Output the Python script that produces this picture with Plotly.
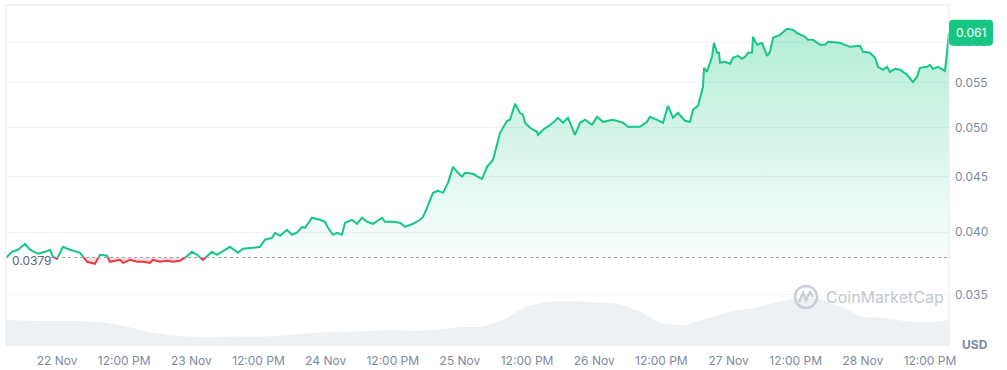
import numpy as np
import pandas as pd
import plotly.graph_objects as go

# ---------------- data ----------------
times = [
    "2024-11-21 14:53", "2024-11-21 15:57", "2024-11-21 17:02", "2024-11-21 18:17", "2024-11-21 19:10",
    "2024-11-21 20:36", "2024-11-21 21:51", "2024-11-21 22:45", "2024-11-21 23:17", "2024-11-22 00:00",
    "2024-11-22 01:04", "2024-11-22 02:19", "2024-11-22 04:07", "2024-11-22 05:22", "2024-11-22 06:47",
    "2024-11-22 07:41", "2024-11-22 08:56", "2024-11-22 09:28", "2024-11-22 11:15", "2024-11-22 11:48",
    "2024-11-22 13:03", "2024-11-22 14:18", "2024-11-22 15:22", "2024-11-22 16:37", "2024-11-22 17:09",
    "2024-11-22 18:24", "2024-11-22 19:39", "2024-11-22 20:44", "2024-11-22 21:59", "2024-11-22 22:52",
    "2024-11-23 00:07", "2024-11-23 01:01", "2024-11-23 02:05", "2024-11-23 03:42", "2024-11-23 04:36",
    "2024-11-23 06:55", "2024-11-23 08:21", "2024-11-23 09:14", "2024-11-23 11:02", "2024-11-23 12:17",
    "2024-11-23 13:10", "2024-11-23 14:25", "2024-11-23 14:57", "2024-11-23 15:51", "2024-11-23 17:06",
    "2024-11-23 18:00", "2024-11-23 18:53", "2024-11-23 19:47", "2024-11-23 20:19", "2024-11-23 21:34",
    "2024-11-23 23:00", "2024-11-23 23:53", "2024-11-24 00:26", "2024-11-24 01:19", "2024-11-24 02:02",
    "2024-11-24 02:56", "2024-11-24 03:28", "2024-11-24 04:43", "2024-11-24 05:37", "2024-11-24 06:30",
    "2024-11-24 07:24", "2024-11-24 08:28", "2024-11-24 10:05", "2024-11-24 10:37", "2024-11-24 12:03",
    "2024-11-24 13:18", "2024-11-24 14:11", "2024-11-24 15:37", "2024-11-24 16:52", "2024-11-24 17:24",
    "2024-11-24 18:07", "2024-11-24 19:11", "2024-11-24 20:05", "2024-11-24 20:59", "2024-11-24 21:52",
    "2024-11-24 22:46", "2024-11-24 23:40", "2024-11-25 00:22", "2024-11-25 00:55", "2024-11-25 02:20",
    "2024-11-25 03:35", "2024-11-25 03:57", "2024-11-25 04:51", "2024-11-25 05:55", "2024-11-25 07:10",
    "2024-11-25 08:25", "2024-11-25 08:57", "2024-11-25 09:51", "2024-11-25 10:44", "2024-11-25 11:16",
    "2024-11-25 11:38", "2024-11-25 12:32", "2024-11-25 13:47", "2024-11-25 13:57", "2024-11-25 14:51",
    "2024-11-25 16:38", "2024-11-25 17:32", "2024-11-25 18:25", "2024-11-25 19:19", "2024-11-25 20:34",
    "2024-11-25 21:28", "2024-11-25 22:21", "2024-11-25 23:36", "2024-11-26 00:30", "2024-11-26 01:34",
    "2024-11-26 03:21", "2024-11-26 05:09", "2024-11-26 06:02", "2024-11-26 06:56", "2024-11-26 08:11",
    "2024-11-26 09:26", "2024-11-26 09:58", "2024-11-26 11:13", "2024-11-26 12:18", "2024-11-26 13:11",
    "2024-11-26 14:05", "2024-11-26 14:58", "2024-11-26 16:13", "2024-11-26 17:07", "2024-11-26 17:39",
    "2024-11-26 18:33", "2024-11-26 19:26", "2024-11-26 19:37", "2024-11-26 20:09", "2024-11-26 21:03",
    "2024-11-26 21:24", "2024-11-26 21:57", "2024-11-26 22:18", "2024-11-26 22:29", "2024-11-26 23:22",
    "2024-11-27 00:16", "2024-11-27 00:48", "2024-11-27 01:42", "2024-11-27 02:25", "2024-11-27 02:57",
    "2024-11-27 03:29", "2024-11-27 04:12", "2024-11-27 04:22", "2024-11-27 05:05", "2024-11-27 05:59",
    "2024-11-27 06:53", "2024-11-27 07:25", "2024-11-27 07:57", "2024-11-27 09:12", "2024-11-27 10:27",
    "2024-11-27 11:31", "2024-11-27 12:14", "2024-11-27 13:40", "2024-11-27 14:12", "2024-11-27 15:06",
    "2024-11-27 16:21", "2024-11-27 17:14", "2024-11-27 17:47", "2024-11-27 19:55", "2024-11-27 20:49",
    "2024-11-27 21:42", "2024-11-27 23:30", "2024-11-28 00:02", "2024-11-28 01:17", "2024-11-28 02:11",
    "2024-11-28 02:43", "2024-11-28 03:36", "2024-11-28 04:19", "2024-11-28 04:51", "2024-11-28 05:45",
    "2024-11-28 06:39", "2024-11-28 07:54", "2024-11-28 08:58", "2024-11-28 09:41", "2024-11-28 10:13",
    "2024-11-28 11:28", "2024-11-28 12:00", "2024-11-28 12:32", "2024-11-28 13:26", "2024-11-28 14:41",
    "2024-11-28 15:03", "2024-11-28 15:24",
]
prices = [
    0.03787, 0.03836, 0.03853, 0.03902, 0.03853,
    0.03820, 0.03836, 0.03853, 0.03795, 0.03779,
    0.03877, 0.03853, 0.03828, 0.03755, 0.03739,
    0.03812, 0.03804, 0.03755, 0.03771, 0.03747,
    0.03771, 0.03755, 0.03755, 0.03747, 0.03771,
    0.03755, 0.03763, 0.03755, 0.03763, 0.03787,
    0.03836, 0.03812, 0.03771, 0.03836, 0.03812,
    0.03877, 0.03828, 0.03861, 0.03869, 0.03877,
    0.03936, 0.03952, 0.03995, 0.03969, 0.04020,
    0.03978, 0.03995, 0.04046, 0.04038, 0.04125,
    0.04107, 0.04090, 0.04038, 0.03978, 0.03995,
    0.03978, 0.04081, 0.04107, 0.04072, 0.04125,
    0.04090, 0.04072, 0.04125, 0.04090, 0.04090,
    0.04081, 0.04046, 0.04072, 0.04107, 0.04133,
    0.04213, 0.04350, 0.04369, 0.04350, 0.04444,
    0.04598, 0.04540, 0.04501, 0.04540, 0.04530,
    0.04492, 0.04482, 0.04598, 0.04668, 0.04944,
    0.05072, 0.05083, 0.05259, 0.05160, 0.05138,
    0.05051, 0.04997, 0.04955, 0.04923, 0.04976,
    0.05051, 0.05105, 0.05051, 0.05105, 0.04923,
    0.05051, 0.05083, 0.05029, 0.05116, 0.05061,
    0.05083, 0.05051, 0.05008, 0.05008, 0.05008,
    0.05061, 0.05116, 0.05083, 0.05051, 0.05237,
    0.05105, 0.05160, 0.05072, 0.05061, 0.05193,
    0.05237, 0.05454, 0.05679, 0.05631, 0.05814,
    0.05990, 0.05864, 0.05864, 0.05740, 0.05752,
    0.05728, 0.05801, 0.05826, 0.05789, 0.05814,
    0.05864, 0.05864, 0.06067, 0.05964, 0.05990,
    0.05826, 0.05876, 0.06054, 0.06093, 0.06171,
    0.06158, 0.06119, 0.06067, 0.06028, 0.06028,
    0.05964, 0.05964, 0.06003, 0.05990, 0.05964,
    0.05939, 0.05952, 0.05876, 0.05864, 0.05801,
    0.05691, 0.05655, 0.05691, 0.05631, 0.05667,
    0.05655, 0.05595, 0.05512, 0.05571, 0.05679,
    0.05691, 0.05716, 0.05667, 0.05691, 0.05643,
    0.05876, 0.06120,
]

vol_times = [
    "2024-11-21 14:53", "2024-11-21 16:00", "2024-11-21 20:00",
    "2024-11-22 00:00", "2024-11-22 04:00", "2024-11-22 08:00", "2024-11-22 12:00", "2024-11-22 16:00", "2024-11-22 20:00",
    "2024-11-23 00:00", "2024-11-23 04:00", "2024-11-23 08:00", "2024-11-23 12:00", "2024-11-23 16:00", "2024-11-23 20:00",
    "2024-11-24 00:00", "2024-11-24 04:00", "2024-11-24 08:00", "2024-11-24 12:00", "2024-11-24 16:00", "2024-11-24 20:00",
    "2024-11-25 00:00", "2024-11-25 04:00", "2024-11-25 08:00", "2024-11-25 12:00", "2024-11-25 16:00", "2024-11-25 20:00",
    "2024-11-26 00:00", "2024-11-26 04:00", "2024-11-26 08:00", "2024-11-26 12:00", "2024-11-26 16:00", "2024-11-26 20:00",
    "2024-11-27 00:00", "2024-11-27 04:00", "2024-11-27 08:00", "2024-11-27 12:00", "2024-11-27 16:00", "2024-11-27 20:00",
    "2024-11-28 00:00", "2024-11-28 04:00", "2024-11-28 08:00", "2024-11-28 12:00", "2024-11-28 15:24",
]
volumes = [
    26, 26, 25,
    25, 25, 24, 20, 14.5, 10.8,
    9.3, 9, 9.5, 9.2, 10.3, 12.5,
    14, 14.2, 15, 16, 15, 16.5,
    19, 19, 27, 40, 44.5, 45,
    43.2, 42.7, 35, 22.5, 20.5, 27.5,
    34, 37.5, 43, 47.7, 47.7, 39.3,
    29, 28, 24.5, 23.8, 26,
]

baseline_price = 0.0379
baseline_label = "0.0379"
last_label = "0.061"
x_range = ["2024-11-21 14:53", "2024-11-28 15:24"]
x_tickvals = [
    "2024-11-22 00:00", "2024-11-22 12:00", "2024-11-23 00:00", "2024-11-23 12:00",
    "2024-11-24 00:00", "2024-11-24 12:00", "2024-11-25 00:00", "2024-11-25 12:00",
    "2024-11-26 00:00", "2024-11-26 12:00", "2024-11-27 00:00", "2024-11-27 12:00",
    "2024-11-28 00:00", "2024-11-28 12:00",
]
x_ticktext = [
    "22 Nov", "12:00 PM", "23 Nov", "12:00 PM", "24 Nov", "12:00 PM", "25 Nov",
    "12:00 PM", "26 Nov", "12:00 PM", "27 Nov", "12:00 PM", "28 Nov", "12:00 PM",
]
y_tickvals = [0.035, 0.040, 0.045, 0.050, 0.055, 0.060]
y_ticktext = ["0.035", "0.040", "0.045", "0.050", "0.055", "0.060"]
y_range = [0.03138, 0.06493]

# ---------------- styling ----------------
GREEN = "#16c784"
RED = "#ea3943"
GRID = "#eff2f5"
TICK = "#808a9d"
FONT = "Inter"

# ---------------- split line at baseline crossings ----------------
t = pd.to_datetime(times)
p = np.array(prices, dtype=float)
base = baseline_price
tx, py = [], []
for i in range(len(p)):
    if i > 0:
        a, b = p[i - 1], p[i]
        if (a - base) * (b - base) < 0:
            la, lb, lc = np.log(a), np.log(b), np.log(base)
            f = (lc - la) / (lb - la)
            tx.append(t[i - 1] + (t[i] - t[i - 1]) * f)
            py.append(base)
    tx.append(t[i])
    py.append(p[i])
py = np.array(py)

green_line = [v if v >= base else None for v in py]
red_line = [v if v <= base else None for v in py]
green_fill = np.maximum(py, base)
red_fill = np.minimum(py, base)
base_arr = np.full(len(py), base)

fig = go.Figure()

# volume (secondary axis)
fig.add_trace(go.Scatter(
    x=pd.to_datetime(vol_times), y=volumes, yaxis="y2", mode="lines",
    line=dict(width=0, color="rgba(0,0,0,0)"), fill="tozeroy",
    fillcolor="rgba(222,227,234,0.5)", hoverinfo="skip", showlegend=False,
))

# green fill area
fig.add_trace(go.Scatter(x=tx, y=base_arr, mode="lines", line=dict(width=0),
                         hoverinfo="skip", showlegend=False))
fig.add_trace(go.Scatter(
    x=tx, y=green_fill, mode="lines", line=dict(width=0), fill="tonexty",
    fillgradient=dict(type="vertical",
                      colorscale=[[0, "rgba(22,199,132,0.02)"], [1, "rgba(22,199,132,0.32)"]]),
    hoverinfo="skip", showlegend=False,
))
# red fill area
fig.add_trace(go.Scatter(x=tx, y=base_arr, mode="lines", line=dict(width=0),
                         hoverinfo="skip", showlegend=False))
fig.add_trace(go.Scatter(
    x=tx, y=red_fill, mode="lines", line=dict(width=0), fill="tonexty",
    fillcolor="rgba(234,57,67,0.18)", hoverinfo="skip", showlegend=False,
))
# lines
fig.add_trace(go.Scatter(x=tx, y=green_line, mode="lines",
                         line=dict(color=GREEN, width=2), connectgaps=False, showlegend=False))
fig.add_trace(go.Scatter(x=tx, y=red_line, mode="lines",
                         line=dict(color=RED, width=2), connectgaps=False, showlegend=False))

# ---------------- layout ----------------
def px_x(X):
    return (X - 6) / 943.0

def px_y(Y):
    return (346 - Y) / 341.0

shapes = [
    # plot frame (top, left, right)
    dict(type="line", xref="paper", yref="paper", x0=0, x1=1, y0=1, y1=1,
         line=dict(color="#e6e9ee", width=1)),
    dict(type="line", xref="paper", yref="paper", x0=0, x1=0, y0=0, y1=1,
         line=dict(color="#e6e9ee", width=1)),
    dict(type="line", xref="paper", yref="paper", x0=1, x1=1, y0=0, y1=1,
         line=dict(color="#e6e9ee", width=1)),
    # baseline dotted line
    dict(type="line", xref="paper", yref="y", x0=px_x(50), x1=1, y0=base, y1=base,
         line=dict(color="#9aa3b2", width=1, dash="dot"), layer="above"),
    # watermark logo
    dict(type="circle", xref="paper", yref="paper",
         x0=px_x(795), x1=px_x(817), y0=px_y(308), y1=px_y(286),
         line=dict(color="#c9ced6", width=2.5), layer="above"),
    dict(type="path", xref="paper", yref="paper",
         path=(f"M {px_x(799)},{px_y(302)} L {px_x(803)},{px_y(293)} L {px_x(806)},{px_y(300)} "
               f"L {px_x(810)},{px_y(292)} L {px_x(813)},{px_y(297)}"),
         line=dict(color="#c9ced6", width=2.5), layer="above"),
    # last-price badge (rounded rect, pixel-sized)
    dict(type="path", xref="paper", yref="y", xsizemode="pixel", ysizemode="pixel",
         xanchor=1, yanchor=p[-1],
         path="M 4,-13 L 40,-13 Q 44,-13 44,-9 L 44,9 Q 44,13 40,13 L 4,13 Q 0,13 0,9 L 0,-9 Q 0,-13 4,-13 Z",
         fillcolor=GREEN, line=dict(width=0), layer="above"),
]

# annotations on a log axis take log10 positions
annotations = [
    dict(text=baseline_label, xref="paper", yref="y", x=px_x(10), y=np.log10(base),
         xanchor="left", yanchor="middle", yshift=-3, showarrow=False,
         font=dict(family=FONT, size=12, color="#58667e")),
    dict(text=last_label, xref="paper", yref="y", x=1, y=np.log10(p[-1]), xshift=22,
         xanchor="center", yanchor="middle", showarrow=False,
         font=dict(family=FONT, size=12, color="white")),
    dict(text="<b>USD</b>", xref="paper", yref="paper", x=1, y=0, xshift=26,
         xanchor="center", yanchor="middle", yshift=2, showarrow=False,
         font=dict(family=FONT, size=12, color=TICK)),
    dict(text="CoinMarketCap", xref="paper", yref="paper", x=px_x(824), y=px_y(297),
         xanchor="left", yanchor="middle", showarrow=False,
         font=dict(family=FONT, size=16, color="#c3c8d0")),
]

fig.update_layout(
    width=1007, height=370,
    margin=dict(l=6, r=58, t=5, b=24, autoexpand=False),
    paper_bgcolor="white", plot_bgcolor="white",
    showlegend=False,
    font=dict(family=FONT, size=12, color=TICK),
    xaxis=dict(
        type="date", range=x_range, tickmode="array", tickvals=x_tickvals, ticktext=x_ticktext,
        showgrid=False, zeroline=False, showline=False, ticks="", automargin=False,
        tickfont=dict(family=FONT, size=12, color=TICK), ticklabelstandoff=6,
    ),
    yaxis=dict(
        type="log", range=[np.log10(y_range[0]), np.log10(y_range[1])], side="right",
        tickmode="array", tickvals=y_tickvals, ticktext=y_ticktext, automargin=False,
        showgrid=True, gridcolor=GRID, gridwidth=1, zeroline=False, showline=False, ticks="",
        tickfont=dict(family=FONT, size=12, color=TICK), ticklabelstandoff=5,
    ),
    yaxis2=dict(
        overlaying="y", range=[0, 341], visible=False, showgrid=False, automargin=False,
    ),
    shapes=shapes,
    annotations=annotations,
)

fig.write_html("out.html", config={"displayModeBar": False},
               post_script="document.body.style.margin='0';")
